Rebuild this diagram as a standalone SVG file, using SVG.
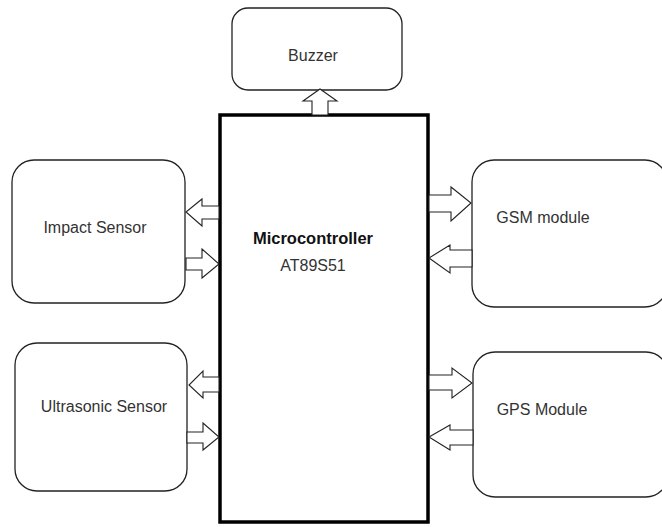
<svg xmlns="http://www.w3.org/2000/svg" width="662" height="527" viewBox="0 0 662 527">
<style>
.box{fill:#fff;stroke:#222;stroke-width:1.3}
.main{fill:#fff;stroke:#000;stroke-width:3.5}
.arr{fill:#fff;stroke:#222;stroke-width:1.1;stroke-linejoin:miter}
text{font-family:"Liberation Sans",Arial,sans-serif;font-size:16px;fill:#333;text-anchor:middle}
.b{font-weight:bold;fill:#111;font-size:16.5px}
</style>
<rect width="662" height="527" fill="#fff"/>
<g id="microcontroller">
<rect class="main" x="220" y="115" width="208" height="407"/>
<text class="b" x="313" y="244">Microcontroller</text>
<text x="313" y="271">AT89S51</text>
</g>
<g id="buzzer">
<rect class="box" x="232" y="8" width="170" height="82" rx="16"/>
<text x="313" y="61">Buzzer</text>
</g>
<g id="impact">
<rect class="box" x="12" y="160" width="173" height="143" rx="22"/>
<text x="95" y="233">Impact Sensor</text>
</g>
<g id="gsm">
<rect class="box" x="472" y="160" width="195" height="147" rx="22"/>
<text x="543" y="223">GSM module</text>
</g>
<g id="ultrasonic">
<rect class="box" x="15" y="343" width="172" height="148" rx="22"/>
<text x="104" y="412">Ultrasonic Sensor</text>
</g>
<g id="gps">
<rect class="box" x="473" y="352" width="195" height="145" rx="22"/>
<text x="542" y="415">GPS Module</text>
</g>
<g id="connectors">
<polygon class="arr" points="312,115 312,101 303,101 320,89 337,101 328,101 328,115"/>
<polygon class="arr" points="219,206 202,206 202,199 186,212 202,226 202,219 219,219"/>
<polygon class="arr" points="186,258 202,258 202,249 219,264 202,278 202,270 186,270"/>
<polygon class="arr" points="429,195 451,195 451,187 471,203 451,221 451,212 429,212"/>
<polygon class="arr" points="472,250 450,250 450,245 429,258 450,273 450,267 472,267"/>
<polygon class="arr" points="219,377 203,377 203,371 189,385 203,398 203,392 219,392"/>
<polygon class="arr" points="187,432 203,432 203,423 219,437 203,450 203,443 187,443"/>
<polygon class="arr" points="429,375 452,375 452,368 472,383 452,398 452,390 429,390"/>
<polygon class="arr" points="473,430 450,430 450,425 429,437 450,450 450,445 473,445"/>
</g>
</svg>
